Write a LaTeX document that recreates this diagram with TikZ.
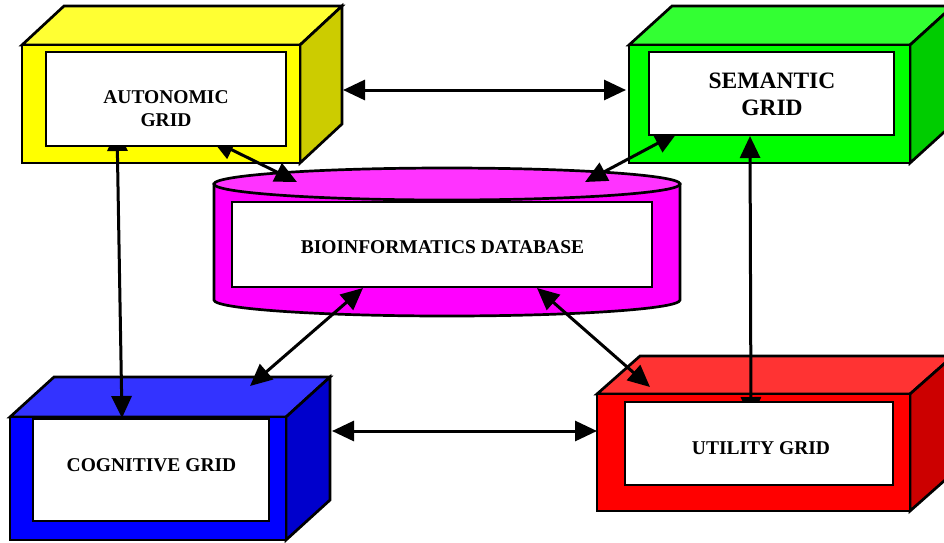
\documentclass[tikz,border=0pt]{standalone}
\usepackage{fontspec}
\setmainfont{Liberation Serif}
\usetikzlibrary{arrows.meta}
\definecolor{yelF}{HTML}{FFFF00}\definecolor{yelT}{HTML}{FFFF33}\definecolor{yelS}{HTML}{CCCC00}
\definecolor{grnF}{HTML}{00FF00}\definecolor{grnT}{HTML}{33FF33}\definecolor{grnS}{HTML}{00CC00}
\definecolor{bluF}{HTML}{0000FF}\definecolor{bluT}{HTML}{3333FF}\definecolor{bluS}{HTML}{0000CC}
\definecolor{redF}{HTML}{FF0000}\definecolor{redT}{HTML}{FF3333}\definecolor{redS}{HTML}{CC0000}
\definecolor{magF}{HTML}{FF00FF}\definecolor{magT}{HTML}{FF33FF}
\pgfdeclarelayer{bg}\pgfdeclarelayer{mid}\pgfsetlayers{bg,mid,main}
\newcommand{\gridbox}[7]{%
  \filldraw[boxline,fill=#7T] (#1,#2) -- ++(#5,#6) -- ([shift={(#5,#6)}]#3,#2) -- (#3,#2) -- cycle;
  \filldraw[boxline,fill=#7S] (#3,#2) -- ++(#5,#6) -- ([shift={(#5,#6)}]#3,#4) -- (#3,#4) -- cycle;
  \filldraw[boxline,fill=#7F] (#1,#2) rectangle (#3,#4);}
\begin{document}
\begin{tikzpicture}[x=1pt,y=-1pt,
  boxline/.style={draw=black,line width=2.7pt,line join=miter},
  whitebox/.style={draw=black,fill=white,line width=2.7pt,inner sep=0pt,rectangle},
  lbl/.style={font=\fontsize{19.5}{23}\selectfont\bfseries,align=center,inner sep=0pt},
  dblarrow/.style={line width=3pt,{Triangle[length=22pt,width=20pt]}-{Triangle[length=22pt,width=20pt]}}]
\useasboundingbox (0,0) rectangle (944,542);
\clip (0,0) rectangle (944,542);
% white panels (front layer)
\node[whitebox,minimum width=240pt,minimum height=94pt] (autW) at (166,99) {};
\node[whitebox,minimum width=245pt,minimum height=83pt] (semW) at (771.5,93.5) {};
\node[whitebox,minimum width=236pt,minimum height=102pt] (cogW) at (151,470) {};
\node[whitebox,minimum width=268pt,minimum height=83pt] (utiW) at (759,443.5) {};
\node[whitebox,minimum width=420pt,minimum height=85pt] (dbW) at (442,244.5) {};
\node[lbl] (autT) at (166,109) {AUTONOMIC\\GRID};
\node[lbl,font=\fontsize{23.5}{27}\selectfont\bfseries] (semT) at (772,94) {SEMANTIC\\GRID};
\node[lbl] (cogT) at (151.5,465) {COGNITIVE GRID};
\node[lbl] (utiT) at (761,448.5) {UTILITY GRID};
\node[lbl] (dbT) at (442.5,247.5) {BIOINFORMATICS DATABASE};
% boxes
\begin{pgfonlayer}{bg}
\gridbox{22}{45}{300}{163}{42}{-39}{yel}
\gridbox{629}{45}{910}{163}{43}{-39}{grn}
\gridbox{10}{417}{286}{540}{44}{-40}{blu}
\gridbox{597}{394}{910}{511}{43}{-38}{red}
\filldraw[boxline,fill=magF] (214,184) -- (214,300) arc[start angle=180,end angle=0,x radius=233,y radius=16] -- (680,184) -- cycle;
\filldraw[boxline,fill=magT] (447,184) ellipse [x radius=233,y radius=16];
\end{pgfonlayer}
% connectors
\coordinate (a1) at (343,90);   \coordinate (s1) at (626,90);
\coordinate (a2) at (212,140);  \coordinate (d2) at (297,182);
\coordinate (s3) at (677,133);  \coordinate (d3) at (585,182);
\coordinate (a4) at (117,129);  \coordinate (c4) at (122,418);
\coordinate (c5) at (250,386);  \coordinate (d5) at (363,288);
\coordinate (u6) at (650,387);  \coordinate (d6) at (537,288);
\coordinate (c7) at (332,431);  \coordinate (u7) at (597,431);
\coordinate (u8) at (751,419);  \coordinate (s8) at (750,136);
\begin{pgfonlayer}{mid}
\draw[dblarrow] (a1) -- (s1);
\draw[dblarrow] (a2) -- (d2);
\draw[dblarrow] (s3) -- (d3);
\draw[dblarrow] (a4) -- (c4);
\draw[dblarrow] (c5) -- (d5);
\draw[dblarrow] (u6) -- (d6);
\draw[dblarrow] (c7) -- (u7);
\draw[dblarrow] (u8) -- (s8);
\end{pgfonlayer}
\end{tikzpicture}
\end{document}
